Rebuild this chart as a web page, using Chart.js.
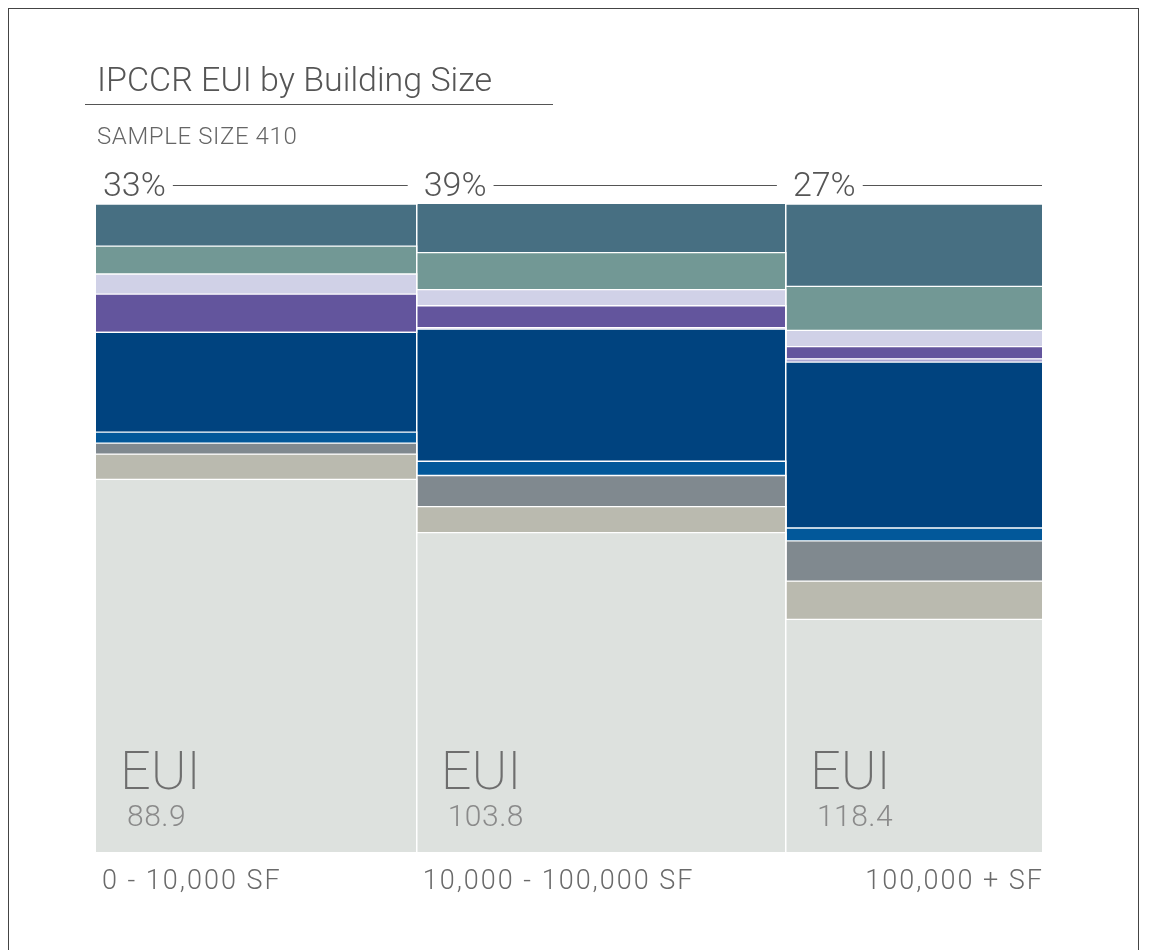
<!DOCTYPE html>
<html>
<head>
<meta charset="utf-8">
<title>IPCCR EUI by Building Size</title>
<script src="https://cdn.jsdelivr.net/npm/chart.js@4.4.1/dist/chart.umd.min.js"></script>
<style>
  html, body { margin: 0; padding: 0; background: #fff; }
  #frame {
    position: absolute; left: 8px; top: 8px; width: 1131px; height: 1000px;
    border: 1.5px solid #444; border-bottom: none; box-sizing: border-box;
  }
  #wrap { position: absolute; left: 0; top: 0; width: 1152px; height: 950px; }
</style>
</head>
<body>
<div id="frame"></div>
<div id="wrap"><canvas id="chart" width="1152" height="950"></canvas></div>
<script>
// building size groups (column widths = number of buildings)
var sizeLabels = ["0 - 10,000 SF", "10,000 - 100,000 SF", "100,000 + SF"];
var sizeCounts = [139, 160, 111];
var shareLabels = ["33%", "39%", "27%"];
var euiValues = ["88.9", "103.8", "118.4"];

// end-use shares of EUI (% of column), listed bottom to top
var segLight   = [57.5, 49.3, 35.9];
var segBeige   = [3.9, 4.0, 5.9];
var segGray    = [1.7, 4.8, 6.2];
var segBlue    = [1.7, 2.2, 2.0];
var segNavy    = [15.4, 20.4, 25.6];
var segThin    = [0.0, 0.2, 0.5];
var segPurple  = [5.9, 3.4, 1.9];
var segLavender= [3.1, 2.5, 2.5];
var segTeal    = [4.3, 5.7, 6.8];
var segSlate   = [6.5, 7.7, 12.7];

var segments = [
  { values: segLight, color: "#dde1de" },
  { values: segBeige, color: "#babaaf" },
  { values: segGray, color: "#80898f" },
  { values: segBlue, color: "#02589a" },
  { values: segNavy, color: "#00437f" },
  { values: segThin, color: "#aba6d2" },
  { values: segPurple, color: "#63559d" },
  { values: segLavender, color: "#d0d1e7" },
  { values: segTeal, color: "#729895" },
  { values: segSlate, color: "#476f82" }
];

// x edges of the columns
var colEdges = [0];
sizeCounts.forEach(function (c, i) { colEdges.push(colEdges[i] + c); });
var total = colEdges[colEdges.length - 1];

function stepData(values) {
  var pts = values.map(function (v, i) { return { x: colEdges[i], y: v }; });
  pts.push({ x: total, y: values[values.length - 1] });
  return pts;
}

var datasets = segments.map(function (seg, i) {
  return {
    data: stepData(seg.values),
    backgroundColor: seg.color,
    borderColor: "#ffffff",
    borderWidth: 1.3,
    pointRadius: 0,
    stepped: true,
    fill: i === 0 ? "origin" : "-1"
  };
});

var FONT = "Roboto, 'Open Sans', sans-serif";

var annotations = {
  id: "annotations",
  afterDraw: function (chart) {
    var ctx = chart.ctx;
    var x = chart.scales.x;
    ctx.save();

    // title + rule
    ctx.fillStyle = "#555";
    ctx.textBaseline = "alphabetic";
    ctx.textAlign = "left";
    ctx.font = "300 34px " + FONT;
    ctx.letterSpacing = "0px";
    ctx.fillText("IPCCR EUI by Building Size", 97, 91);
    ctx.strokeStyle = "#555";
    ctx.lineWidth = 1;
    ctx.beginPath();
    ctx.moveTo(85, 104.5);
    ctx.lineTo(553, 104.5);
    ctx.stroke();

    ctx.fillStyle = "#666";
    ctx.font = "300 24px " + FONT;
    ctx.letterSpacing = "0.6px";
    ctx.fillText("SAMPLE SIZE " + total, 97, 144);

    for (var i = 0; i < sizeCounts.length; i++) {
      var left = x.getPixelForValue(colEdges[i]);
      var right = x.getPixelForValue(colEdges[i + 1]);
      var last = i === sizeCounts.length - 1;

      // share of sample with rule
      ctx.fillStyle = "#555";
      ctx.font = "300 34px " + FONT;
      ctx.letterSpacing = "0px";
      ctx.textAlign = "left";
      ctx.fillText(shareLabels[i], left + 7, 196);
      var w = ctx.measureText(shareLabels[i]).width;
      ctx.strokeStyle = "#555";
      ctx.lineWidth = 1;
      ctx.beginPath();
      ctx.moveTo(left + 7 + w + 7, 185.5);
      ctx.lineTo(last ? right : right - 9, 185.5);
      ctx.stroke();

      // EUI labels inside the base segment
      ctx.fillStyle = "#6e6e6e";
      ctx.font = "200 54px " + FONT;
      ctx.fillText("EUI", left + 24, 789);
      ctx.fillStyle = "#8a8a8a";
      ctx.font = "300 30px " + FONT;
      ctx.letterSpacing = "0.5px";
      ctx.fillText(euiValues[i], left + 31, 826);

      // category labels
      ctx.fillStyle = "#6a6a6a";
      ctx.font = "300 27px " + FONT;
      ctx.letterSpacing = "2px";
      if (last) {
        ctx.textAlign = "right";
        ctx.fillText(sizeLabels[i], right + 2, 889);
      } else {
        ctx.textAlign = "left";
        ctx.fillText(sizeLabels[i], left + 6, 889);
      }
    }
    ctx.restore();
  }
};

new Chart(document.getElementById("chart").getContext("2d"), {
  type: "line",
  data: { datasets: datasets },
  options: {
    responsive: false,
    animation: false,
    layout: { padding: { left: 96, top: 204, right: 110, bottom: 98 } },
    plugins: { legend: { display: false }, tooltip: { enabled: false } },
    scales: {
      x: {
        type: "linear",
        min: 0,
        max: total,
        afterBuildTicks: function (scale) {
          scale.ticks = colEdges.map(function (v) { return { value: v }; });
        },
        ticks: { display: false },
        border: { display: false },
        grid: {
          z: 1,
          drawTicks: false,
          lineWidth: 1.5,
          color: function (c) {
            return c.index === 0 || c.index === colEdges.length - 1 ? "rgba(0,0,0,0)" : "#ffffff";
          }
        }
      },
      y: { display: false, stacked: true, min: 0, max: 100 }
    }
  },
  plugins: [annotations]
});
</script>
</body>
</html>
